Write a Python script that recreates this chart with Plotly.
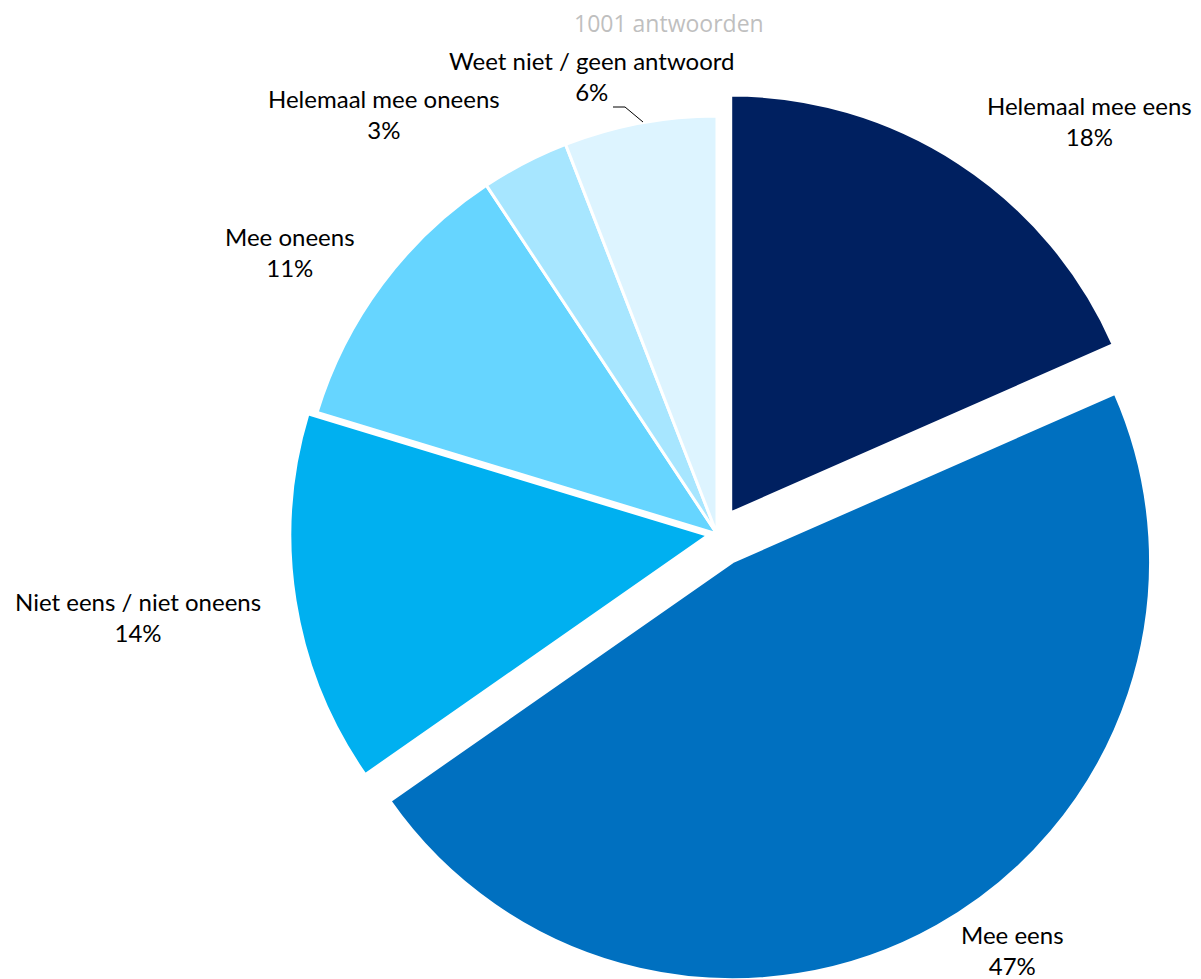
import plotly.graph_objects as go

# Data
labels = ["Helemaal mee eens", "Mee eens", "Niet eens / niet oneens",
          "Mee oneens", "Helemaal mee oneens", "Weet niet / geen antwoord"]
values = [18.4, 46.9, 14.4, 11.0, 3.4, 5.9]
title_text = "1001 antwoorden"

# Styles
colors = ["#002060", "#0070C0", "#00B0F0", "#66D5FF", "#A7E6FF", "#DDF4FF"]
pulls = [0.06, 0.076, 0.022, 0, 0, 0]

W, H = 1201, 979
OFF = 8  # page body margin offset of the rendered figure


def px(x):
    return (x - OFF) / W


def py(y):
    return 1 - (y - OFF) / H


# label centre positions on screen (x, y of the two-line block)
label_pos = [(1089, 121), (1012, 950), (138, 617), (290, 252), (384, 114), (592, 76)]

cx, cy, r = 717 - OFF, 534 - OFF, 418
half = r * (1 + max(pulls))
fig = go.Figure(go.Pie(
    labels=labels, values=values, sort=False, direction="clockwise",
    rotation=0, marker=dict(colors=colors, line=dict(color="white", width=3)),
    pull=pulls, textinfo="none", hoverinfo="label+percent", showlegend=False,
    domain=dict(x=[(cx - half) / W, (cx + half) / W],
                y=[max(0, 1 - (cy + half) / H), 1 - (cy - half) / H]),
))

total = sum(values)
annotations = []
for lab, v, (lx, ly) in zip(labels, values, label_pos):
    annotations.append(dict(
        x=px(lx), y=py(ly), xref="paper", yref="paper",
        text=f"{lab}<br>{round(v / total * 100)}%", showarrow=False,
        xanchor="center", yanchor="middle", align="center",
        font=dict(family="Lato, Carlito, sans-serif", size=24, color="#000000"),
    ))
annotations.append(dict(
    x=px(669), y=py(23), xref="paper", yref="paper", text=title_text,
    showarrow=False, xanchor="center", yanchor="middle",
    font=dict(family="Open Sans, sans-serif", size=23, color="#BFBFBF"),
))

leader = [(613, 107), (625, 107), (643, 122)]
path = "M " + " L ".join(f"{px(x)},{py(y)}" for x, y in leader)
fig.update_layout(
    width=W, height=H, margin=dict(l=0, r=0, t=0, b=0),
    paper_bgcolor="white", plot_bgcolor="white",
    annotations=annotations,
    shapes=[dict(type="path", path=path, xref="paper", yref="paper",
                 line=dict(color="#000000", width=1))],
)
fig.write_html("out.html")
